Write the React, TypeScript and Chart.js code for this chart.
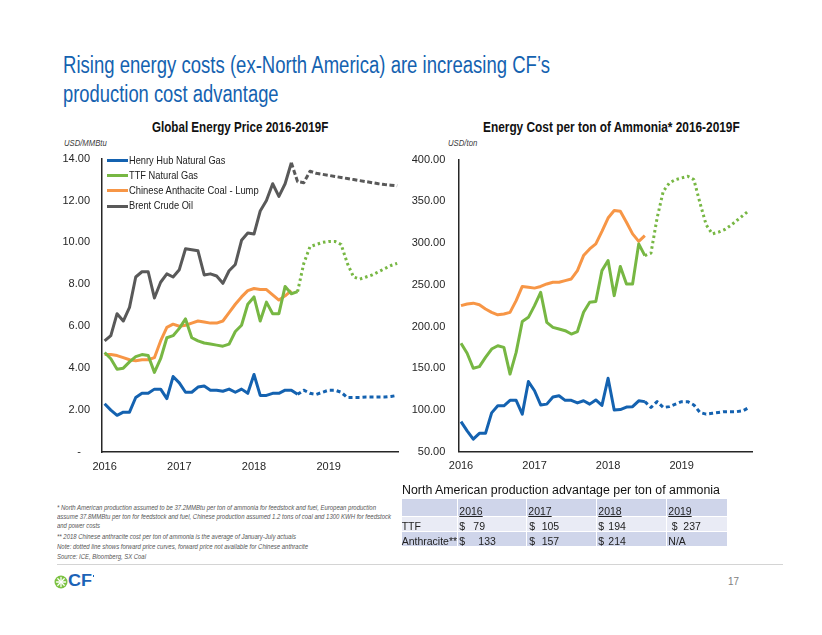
import React, { useEffect, useLayoutEffect, useRef } from "react";
import { Chart, registerables } from "chart.js";
Chart.register(...registerables);

// ---------- data ----------
const yearLabels = ["2016", "2017", "2018", "2019"];
const yearTickIndex = [0, 12, 24, 36];

// Global Energy Price 2016-2019F (USD/MMBtu), monthly from Jan 2016
const henryHubPrice = [2.3, 2.0, 1.75, 1.9, 1.9, 2.6, 2.8, 2.8, 3.0, 3.0, 2.55, 3.6, 3.3, 2.85, 2.85, 3.1, 3.15, 2.95, 2.95, 2.9, 3.0, 2.85, 3.0, 2.8, 3.7, 2.7, 2.7, 2.8, 2.8, 2.95, 2.95, 2.75];
const henryHubPriceFwd = [2.75, 2.95, 2.8, 2.75, 2.85, 2.95, 2.95, 2.85, 2.6, 2.6, 2.6, 2.62, 2.62, 2.62, 2.62, 2.65, 2.7];
const henryHubPriceFwdStart = 31;
const ttfPrice = [4.75, 4.45, 3.95, 4.0, 4.3, 4.55, 4.65, 4.6, 3.8, 4.45, 5.45, 5.55, 5.9, 6.35, 5.45, 5.3, 5.2, 5.15, 5.1, 5.05, 5.15, 5.75, 6.05, 7.05, 7.4, 6.25, 7.15, 6.6, 6.6, 7.9, 7.55, 7.65];
const ttfPriceFwd = [7.65, 9.0, 9.8, 9.9, 10.0, 10.05, 10.05, 9.9, 9.0, 8.35, 8.25, 8.35, 8.45, 8.6, 8.75, 8.9, 9.0];
const ttfPriceFwdStart = 31;
const coalPrice = [4.65, 4.65, 4.6, 4.5, 4.4, 4.35, 4.4, 4.4, 4.5, 5.3, 5.95, 6.1, 6.0, 6.05, 6.15, 6.25, 6.2, 6.15, 6.15, 6.25, 6.65, 7.05, 7.4, 7.7, 7.8, 7.75, 7.75, 7.5, 7.25, 7.45, 7.7];
const brentPrice = [5.3, 5.55, 6.6, 6.25, 6.9, 8.35, 8.6, 8.6, 7.35, 8.1, 8.5, 8.35, 8.7, 9.7, 9.65, 9.6, 8.45, 8.5, 8.4, 8.05, 8.65, 8.95, 10.1, 10.45, 10.4, 11.5, 12.0, 12.8, 12.2, 12.8, 13.8];
const brentPriceFwd = [13.8, 12.9, 12.85, 13.4, 13.3, 13.25, 13.2, 13.15, 13.1, 13.05, 13.0, 12.95, 12.9, 12.85, 12.8, 12.76, 12.73, 12.7];
const brentPriceFwdStart = 30;

// Energy Cost per ton of Ammonia* 2016-2019F (USD/ton), monthly from Jan 2016
const henryHubCost = [86, 75, 65, 72, 72, 96.5, 105, 105, 111.5, 111.5, 95, 134, 123, 106, 107, 115.5, 117, 111.5, 111.5, 108.5, 111, 107, 112, 105.5, 138, 100, 100.5, 103.5, 104, 111, 110];
const henryHubCostFwd = [110, 103, 110, 103, 104, 107, 110, 110, 106, 97, 95, 96, 97, 98, 98, 98, 99, 103];
const henryHubCostFwdStart = 30;
const ttfCost = [180, 168, 150, 152, 163, 173, 177, 175, 143, 169, 206, 211, 225, 241, 205, 199, 197, 195, 191, 194, 217, 229, 230, 267, 279, 237, 272, 251, 251, 299, 285];
const ttfCostFwd = [285, 288, 330, 362, 372, 376, 378, 380, 376, 348, 322, 311, 313, 316, 321, 327, 333, 339];
const ttfCostFwdStart = 30;
const coalCost = [225, 227, 228, 226, 221, 217, 214, 215, 217, 231, 248, 247, 246, 248, 251, 253, 253, 255, 257, 267, 285, 293, 299, 314, 330, 339, 338, 325, 311, 302, 309];

const legendLabels = ["Henry Hub Natural Gas", "TTF Natural Gas", "Chinese Anthacite Coal - Lump", "Brent Crude Oil"];

// Table: North American production advantage per ton of ammonia
const tableYears = ["2016", "2017", "2018", "2019"];
const ttfAdvantage = [79, 105, 194, 237];
const anthraciteAdvantage = [133, 157, 214, null];

// ---------- style ----------
const BLUE = "#1462b0";
const GREEN = "#77b743";
const ORANGE = "#f79646";
const GRAY = "#595959";
const FONT = "'Liberation Sans', Arial, Helvetica, sans-serif";
const TICK_FONT = "'Liberation Sans Narrow', 'Arial Narrow', 'Liberation Sans', Arial, sans-serif";

const pts = (arr: (number | null)[], start = 0) => arr.map((v, i) => ({ x: i + start, y: v }));

function lineDs(data: any[], color: string, dash?: number[]) {
  return {
    data,
    borderColor: color,
    backgroundColor: color,
    borderWidth: 3,
    pointRadius: 0,
    fill: false,
    tension: 0,
    borderDash: dash || [],
    borderCapStyle: "butt",
    borderJoinStyle: "round",
  };
}

function makeOptions(p: any) {
  return {
    responsive: false,
    maintainAspectRatio: false,
    animation: false,
    layout: { padding: { top: p.padTop, right: p.padRight, left: 0, bottom: 0 } },
    plugins: { legend: { display: false }, tooltip: { enabled: false }, title: { display: false } },
    scales: {
      x: {
        type: "linear",
        min: p.xMin,
        max: p.xMax,
        grid: { display: false, drawTicks: false },
        border: { display: true, color: "#262626", width: 1.5 },
        ticks: {
          padding: 8,
          font: { family: TICK_FONT, size: 11 },
          color: "#262626",
          maxRotation: 0,
          autoSkip: false,
          callback: (v: number) => yearLabels[yearTickIndex.indexOf(v)] ?? "",
        },
        afterBuildTicks: (s: any) => {
          s.ticks = yearTickIndex.map((v) => ({ value: v }));
        },
        afterFit: (s: any) => {
          s.height = p.xHeight;
        },
      },
      y: {
        min: p.yMin,
        max: p.yMax,
        grid: { display: false, drawTicks: false },
        border: { display: true, color: "#262626", width: 1.5 },
        ticks: {
          stepSize: p.yStep,
          padding: p.tickPad,
          font: { family: TICK_FONT, size: 11 },
          color: "#262626",
          callback: p.fmt,
        },
        afterFit: (s: any) => {
          s.width = p.yWidth;
        },
      },
    },
  };
}

function ChartBox({ left, top, width, height, datasets, options }: any) {
  const ref = useRef<HTMLCanvasElement>(null);
  useEffect(() => {
    if (!ref.current) return;
    const c = new Chart(ref.current, { type: "line", data: { datasets }, options } as any);
    return () => c.destroy();
  }, []);
  return (
    <canvas
      ref={ref}
      width={width}
      height={height}
      style={{ position: "absolute", left, top, width, height }}
    />
  );
}

function Txt({ x, y, text, w, size, color = "#222", weight = 400, italic = false, underline = false }: any) {
  const ref = useRef<HTMLDivElement>(null);
  useLayoutEffect(() => {
    const el = ref.current;
    if (!el || !w) return;
    el.style.transform = "none";
    const nat = el.getBoundingClientRect().width;
    if (nat > 0) el.style.transform = `scaleX(${w / nat})`;
  }, [text, w, size]);
  return (
    <div
      ref={ref}
      style={{
        position: "absolute",
        left: x,
        top: y - 0.8465 * size,
        fontFamily: FONT,
        fontSize: size,
        lineHeight: size + "px",
        color,
        fontWeight: weight,
        fontStyle: italic ? "italic" : "normal",
        textDecoration: underline ? "underline" : "none",
        whiteSpace: "nowrap",
        transformOrigin: "0 0",
      }}
    >
      {text}
    </div>
  );
}

export default function App() {
  const leftDatasets = [
    lineDs(pts(henryHubPrice), BLUE),
    lineDs(pts(henryHubPriceFwd, henryHubPriceFwdStart), BLUE, [4, 3]),
    lineDs(pts(ttfPrice), GREEN),
    lineDs(pts(ttfPriceFwd, ttfPriceFwdStart), GREEN, [2.5, 3]),
    lineDs(pts(coalPrice), ORANGE),
    lineDs(pts(brentPrice), GRAY),
    lineDs(pts(brentPriceFwd, brentPriceFwdStart), GRAY, [5, 2.5]),
  ];
  const rightDatasets = [
    lineDs(pts(henryHubCost), BLUE),
    lineDs(pts(henryHubCostFwd, henryHubCostFwdStart), BLUE, [4, 3]),
    lineDs(pts(ttfCost), GREEN),
    lineDs(pts(ttfCostFwd, ttfCostFwdStart), GREEN, [2.5, 3]),
    lineDs(pts(coalCost), ORANGE),
  ];
  const leftOpts = makeOptions({
    xMin: -0.42, xMax: 47.2, yMin: 0, yMax: 14, yStep: 2,
    padTop: 18, padRight: 11.6, xHeight: 28, yWidth: 62, tickPad: 12,
    fmt: (v: number) => (v === 0 ? "-   " : v.toFixed(2)),
  });
  const rightOpts = makeOptions({
    xMin: -0.44, xMax: 47.6, yMin: 50, yMax: 400, yStep: 50,
    padTop: 18.3, padRight: 17.3, xHeight: 28.3, yWidth: 58.3, tickPad: 13,
    fmt: (v: number) => v.toFixed(2),
  });

  const legendColors = [BLUE, GREEN, ORANGE, GRAY];
  const legendW = [96.4, 69, 129.7, 64];

  const colX = [401.7, 458.3, 527.3, 596.7, 666.7, 728.3];
  const rowY = [499.3, 516.7, 532, 547.3];
  const rowBg = ["#cfd5ea", "#e9ebf5", "#cfd5ea"];
  const headerX = [459.3, 528.3, 598.3, 668.3];
  const dollarX = [459.3, 529.3, 598.3, 671.7];
  const ttfNumX = [473.3, 541.7, 608.3, 683.3];
  const anthNumX = [478.3, 541.7, 608.3, 668.3];

  const footnotes = [
    { t: "* North American production assumed to be 37.2MMBtu per ton of ammonia for feedstock and fuel, European production", w: 319, y: 510 },
    { t: "assume 37.8MMBtu per ton for feedstock and fuel, Chinese production assumed 1.2 tons of coal and 1300 KWH for feedstock", w: 334, y: 519.2 },
    { t: "and power costs", w: 43, y: 528.2 },
    { t: "** 2018 Chinese anthracite cost per ton of ammonia is the average of January-July actuals", w: 239, y: 538.8 },
    { t: "Note: dotted line shows forward price curves, forward price not available for Chinese anthracite", w: 251, y: 548.8 },
    { t: "Source: ICE, Bloomberg, SX Coal", w: 89, y: 559.3 },
  ];

  return (
    <div style={{ position: "absolute", left: 0, top: 0, width: 822, height: 635, background: "#fff", overflow: "hidden" }}>
      <Txt x={62.7} y={73.3} size={23} w={487} color={BLUE} text="Rising energy costs (ex-North America) are increasing CF’s" />
      <Txt x={62.7} y={102} size={23} w={215.6} color={BLUE} text="production cost advantage" />

      <Txt x={151.7} y={131.7} size={14} w={176.3} weight={700} color="#111" text="Global Energy Price 2016-2019F" />
      <Txt x={483.3} y={131.7} size={14} w={256.7} weight={700} color="#111" text="Energy Cost per ton of Ammonia* 2016-2019F" />
      <Txt x={64} y={146} size={8.5} w={42.7} italic color="#404040" text="USD/MMBtu" />
      <Txt x={448} y={146} size={8.5} w={29.3} italic color="#404040" text="USD/ton" />

      <ChartBox left={40} top={140} width={370} height={340} datasets={leftDatasets} options={leftOpts} />
      <ChartBox left={400} top={140} width={370} height={340} datasets={rightDatasets} options={rightOpts} />

      {legendLabels.map((l, i) => {
        const ly = 160.7 + i * 15.1;
        return (
          <React.Fragment key={l}>
            <div style={{ position: "absolute", left: 106.7, top: ly - 1.5, width: 21.6, height: 3, background: legendColors[i] }} />
            <Txt x={129.3} y={ly + 3.6} size={11} w={legendW[i]} color="#222" text={l} />
          </React.Fragment>
        );
      })}

      <Txt x={401.7} y={495} size={12.5} w={318} color="#111" text="North American production advantage per ton of ammonia" />
      {rowBg.map((bg, r) =>
        colX.slice(0, 5).map((cx, c) => (
          <div
            key={r + "-" + c}
            style={{
              position: "absolute",
              left: cx,
              top: rowY[r],
              width: colX[c + 1] - cx - 1,
              height: rowY[r + 1] - rowY[r] - 1,
              background: bg,
            }}
          />
        ))
      )}
      {tableYears.map((yr, i) => (
        <Txt key={yr} x={headerX[i]} y={515.2} size={10.5} color="#222" underline text={yr} />
      ))}
      <Txt x={401.7} y={529.8} size={10.5} color="#222" text="TTF" />
      <Txt x={401.7} y={545} size={10.5} color="#222" text="Anthracite**" />
      {ttfAdvantage.map((v, i) => (
        <React.Fragment key={"t" + i}>
          <Txt x={dollarX[i]} y={529.8} size={10.5} color="#222" text="$" />
          <Txt x={ttfNumX[i]} y={529.8} size={10.5} color="#222" text={String(v)} />
        </React.Fragment>
      ))}
      {anthraciteAdvantage.map((v, i) =>
        v === null ? (
          <Txt key={"a" + i} x={anthNumX[i]} y={545} size={10.5} color="#222" text="N/A" />
        ) : (
          <React.Fragment key={"a" + i}>
            <Txt x={dollarX[i] - (i === 3 ? 0 : 0)} y={545} size={10.5} color="#222" text="$" />
            <Txt x={anthNumX[i]} y={545} size={10.5} color="#222" text={String(v)} />
          </React.Fragment>
        )
      )}

      {footnotes.map((f) => (
        <Txt key={f.t} x={57.3} y={f.y} size={7} w={f.w} italic color="#555" text={f.t} />
      ))}

      <div style={{ position: "absolute", left: 57, top: 564, width: 726, height: 1, background: "#d4d4d4" }} />

      <svg style={{ position: "absolute", left: 54, top: 574.5 }} width={14} height={14} viewBox="0 0 14 14">
        <circle cx={7} cy={7} r={6.5} fill="#7cc242" />
        <g stroke="#fff" strokeWidth={1.3} strokeLinecap="round">
          <line x1={7} y1={2.5} x2={7} y2={11.5} />
          <line x1={2.5} y1={7} x2={11.5} y2={7} />
          <line x1={3.8} y1={3.8} x2={10.2} y2={10.2} />
          <line x1={10.2} y1={3.8} x2={3.8} y2={10.2} />
        </g>
      </svg>
      <Txt x={68} y={586.8} size={16} w={24} weight={700} color="#1c63b7" text="CF" />
      <div style={{ position: "absolute", left: 92.5, top: 575, width: 1.5, height: 1.5, background: "#1c63b7" }} />

      <Txt x={728} y={585.7} size={11} w={11} color="#808080" text="17" />
    </div>
  );
}
